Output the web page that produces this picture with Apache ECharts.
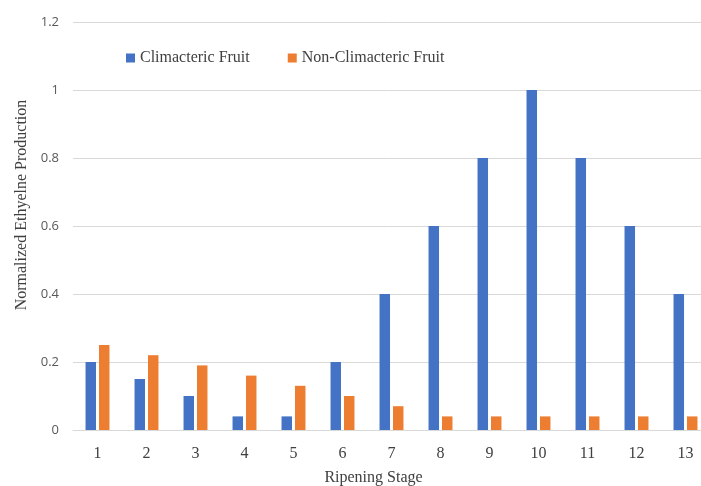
<!DOCTYPE html>
<html>
<head>
<meta charset="utf-8">
<script src="https://cdn.jsdelivr.net/npm/echarts@6/dist/echarts.min.js"></script>
<style>html,body{margin:0;padding:0;background:#fff;}#c{width:701px;height:486px;}</style>
</head>
<body>
<div id="c"></div>
<script>
var stages = ['1','2','3','4','5','6','7','8','9','10','11','12','13'];
var climacteric = [0.2, 0.15, 0.1, 0.04, 0.04, 0.2, 0.4, 0.6, 0.8, 1.0, 0.8, 0.6, 0.4];
var nonClimacteric = [0.25, 0.22, 0.19, 0.16, 0.13, 0.1, 0.07, 0.04, 0.04, 0.04, 0.04, 0.04, 0.04];
var seriesNames = ['Climacteric Fruit', 'Non-Climacteric Fruit'];

var serif = '"Liberation Serif", "DejaVu Serif", serif';
var sans = '"Open Sans", "Liberation Sans", sans-serif';
var chart = echarts.init(document.getElementById('c'), null, {renderer: 'canvas'});
chart.setOption({
  animation: false,
  backgroundColor: '#ffffff',
  color: ['#4472C4', '#ED7D31'],
  legend: {
    left: 121, top: 45,
    itemWidth: 9, itemHeight: 9, itemGap: 38,
    icon: 'rect',
    textStyle: {fontFamily: serif, fontSize: 16, color: '#404040'},
    data: seriesNames
  },
  grid: {left: 73, top: 22, height: 408, width: 637, containLabel: false, outerBoundsMode: 'none'},
  xAxis: {
    type: 'category',
    data: stages,
    name: 'Ripening Stage',
    nameLocation: 'middle',
    nameGap: 40,
    nameTextStyle: {fontFamily: serif, fontSize: 16, color: '#404040', padding: [0, 36, 0, 0]},
    axisLine: {show: true, lineStyle: {color: '#D9D9D9'}},
    axisTick: {show: false},
    axisLabel: {fontFamily: serif, fontSize: 16, color: '#404040', margin: 16}
  },
  yAxis: {
    type: 'value',
    min: 0, max: 1.2, interval: 0.2,
    name: 'Normalized Ethyelne Production',
    nameLocation: 'middle',
    nameGap: 39,
    nameTextStyle: {fontFamily: serif, fontSize: 16, color: '#404040', padding: [0, 0, 0, 42]},
    axisLine: {show: false},
    axisTick: {show: false},
    splitLine: {lineStyle: {color: '#D9D9D9', width: 1}},
    axisLabel: {fontFamily: sans, fontSize: 13, color: '#595959', margin: 14,
      formatter: function (v) { return String(Math.round(v * 10) / 10); }}
  },
  series: [
    {name: seriesNames[0], type: 'bar', data: climacteric, barWidth: 10.5, barGap: '28%'},
    {name: seriesNames[1], type: 'bar', data: nonClimacteric, barWidth: 10.5, barGap: '28%'}
  ]
});
</script>
</body>
</html>
